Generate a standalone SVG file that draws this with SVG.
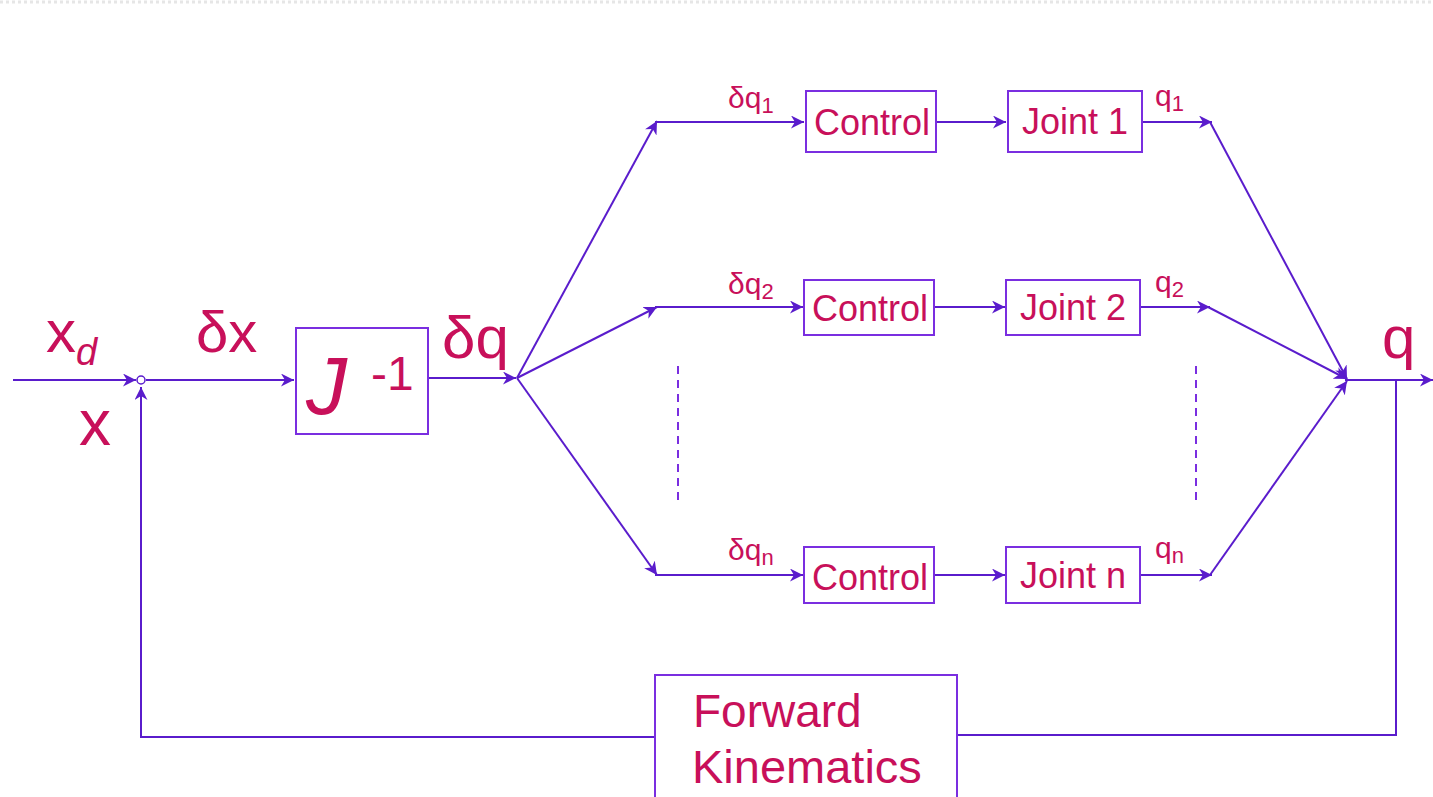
<svg xmlns="http://www.w3.org/2000/svg" width="1433" height="797" viewBox="0 0 1433 797">
<style>
.box{fill:#fff;stroke:#7a2ee0;stroke-width:2}
.ln{fill:none;stroke:#5a1ccc;stroke-width:2}
.dash{fill:none;stroke:#7a2ee0;stroke-width:2;stroke-dasharray:8,6}
.t{font-family:"Liberation Sans",Arial,sans-serif;fill:#c8105a}
.mid{font-size:36px}
.sm{font-size:30px}
</style>
<defs>
<marker id="ah" viewBox="0 0 10 10" refX="10" refY="5" markerWidth="13" markerHeight="13" markerUnits="userSpaceOnUse" orient="auto">
<path d="M0,0 L10,5 L0,10 L3,5 Z" fill="#5a1ccc"/>
</marker>
</defs>
<rect width="1433" height="797" fill="#fff"/>
<line x1="0" y1="2" x2="1433" y2="2" stroke="#e6e6e6" stroke-width="3" stroke-dasharray="3,3"/>
<g id="connectors">
<line class="ln" x1="13" y1="380" x2="136" y2="380" marker-end="url(#ah)"/>
<line class="ln" x1="146" y1="380" x2="294" y2="380" marker-end="url(#ah)"/>
<line class="ln" x1="428" y1="378" x2="516" y2="378" marker-end="url(#ah)"/>
<line class="ln" x1="517" y1="378" x2="657" y2="121" marker-end="url(#ah)"/>
<line class="ln" x1="517" y1="378" x2="657" y2="307" marker-end="url(#ah)"/>
<line class="ln" x1="517" y1="378" x2="657" y2="575" marker-end="url(#ah)"/>
<line class="ln" x1="655" y1="122" x2="804" y2="122" marker-end="url(#ah)"/>
<line class="ln" x1="936" y1="122" x2="1006" y2="122" marker-end="url(#ah)"/>
<line class="ln" x1="1142" y1="122" x2="1212" y2="122" marker-end="url(#ah)"/>
<line class="ln" x1="1210" y1="122" x2="1347" y2="379" marker-end="url(#ah)"/>
<line class="ln" x1="655" y1="307" x2="803" y2="307" marker-end="url(#ah)"/>
<line class="ln" x1="934" y1="307" x2="1005" y2="307" marker-end="url(#ah)"/>
<line class="ln" x1="1140" y1="307" x2="1210" y2="307" marker-end="url(#ah)"/>
<line class="ln" x1="1208" y1="307" x2="1347" y2="379" marker-end="url(#ah)"/>
<line class="ln" x1="655" y1="575" x2="803" y2="575" marker-end="url(#ah)"/>
<line class="ln" x1="934" y1="575" x2="1005" y2="575" marker-end="url(#ah)"/>
<line class="ln" x1="1140" y1="575" x2="1212" y2="575" marker-end="url(#ah)"/>
<line class="ln" x1="1210" y1="575" x2="1347" y2="381" marker-end="url(#ah)"/>
<line class="ln" x1="1345" y1="380" x2="1433" y2="380" marker-end="url(#ah)"/>
<polyline class="ln" points="1396,380 1396,735 957,735"/>
<polyline class="ln" points="655,737 141,737 141,387" marker-end="url(#ah)"/>
<circle cx="141" cy="380" r="4" fill="#fff" stroke="#5a1ccc" stroke-width="1.5"/>
<line class="dash" x1="678" y1="366" x2="678" y2="502"/>
<line class="dash" x1="1196" y1="366" x2="1196" y2="502"/>
</g>
<g id="jinv">
<rect class="box" x="296" y="328" width="132" height="106"/>
<text class="t" x="306" y="414" font-size="82" font-style="italic">J</text>
<text class="t" x="371" y="390" font-size="48">-1</text>
</g>
<g id="control1"><rect class="box" x="806" y="91" width="130" height="61"/><text class="t mid" x="872" y="135" text-anchor="middle">Control</text></g>
<g id="joint1"><rect class="box" x="1008" y="91" width="134" height="61"/><text class="t mid" x="1075" y="134" text-anchor="middle">Joint 1</text></g>
<g id="control2"><rect class="box" x="804" y="280" width="130" height="55"/><text class="t mid" x="870" y="321" text-anchor="middle">Control</text></g>
<g id="joint2"><rect class="box" x="1006" y="280" width="134" height="55"/><text class="t mid" x="1073" y="320" text-anchor="middle">Joint 2</text></g>
<g id="controln"><rect class="box" x="804" y="547" width="130" height="56"/><text class="t mid" x="870" y="590" text-anchor="middle">Control</text></g>
<g id="jointn"><rect class="box" x="1006" y="547" width="134" height="56"/><text class="t mid" x="1073" y="588" text-anchor="middle">Joint n</text></g>
<g id="fk">
<rect class="box" x="655" y="675" width="302" height="130"/>
<text class="t" x="693" y="727" font-size="46">Forward</text>
<text class="t" x="692" y="783" font-size="47">Kinematics</text>
</g>
<g id="labels">
<text class="t" x="46" y="352" font-size="60">x<tspan font-size="38" font-style="italic" dy="13">d</tspan></text>
<text class="t" x="79" y="445" font-size="64">x</text>
<text class="t" x="196" y="352" font-size="58">δx</text>
<text class="t" x="442" y="358" font-size="60">δq</text>
<text class="t" x="1382" y="358" font-size="60">q</text>
<text class="t sm" x="728" y="108">δq<tspan font-size="22" dy="5">1</tspan></text>
<text class="t sm" x="1155" y="106">q<tspan font-size="22" dy="5">1</tspan></text>
<text class="t sm" x="728" y="294">δq<tspan font-size="22" dy="5">2</tspan></text>
<text class="t sm" x="1155" y="292">q<tspan font-size="22" dy="5">2</tspan></text>
<text class="t sm" x="728" y="560">δq<tspan font-size="22" dy="5">n</tspan></text>
<text class="t sm" x="1155" y="558">q<tspan font-size="22" dy="5">n</tspan></text>
</g>
</svg>
